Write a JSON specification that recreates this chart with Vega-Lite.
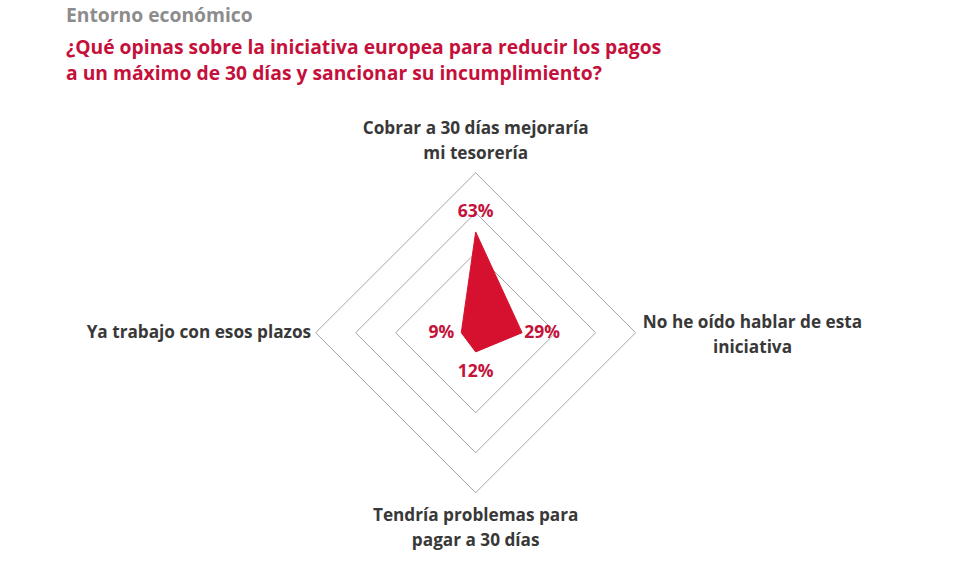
{
  "$schema": "https://vega.github.io/schema/vega-lite/v6.json",
  "width": 980,
  "height": 473,
  "autosize": {"type": "none"},
  "padding": {"top": 95, "left": 0, "right": 0, "bottom": 0},
  "background": "white",
  "config": {
    "view": {"stroke": null},
    "font": "Open Sans"
  },
  "title": {
    "text": "Entorno económico",
    "subtitle": [
      "¿Qué opinas sobre la iniciativa europea para reducir los pagos",
      "a un máximo de 30 días y sancionar su incumplimiento?"
    ],
    "anchor": "start",
    "frame": "group",
    "dx": 66,
    "offset": 11,
    "font": "Open Sans",
    "fontSize": 19.3,
    "fontWeight": "bold",
    "color": "#8c8c8c",
    "subtitleFont": "Open Sans",
    "subtitleFontSize": 19.3,
    "subtitleFontWeight": "bold",
    "subtitleColor": "#c5103c",
    "subtitleLineHeight": 26,
    "subtitlePadding": 12
  },
  "datasets": {
    "respuestas": [
      {"respuesta": "Cobrar a 30 días mejoraría\nmi tesorería", "pct": 63, "angle": 90, "orden": 1},
      {"respuesta": "No he oído hablar de esta\niniciativa", "pct": 29, "angle": 0, "orden": 2},
      {"respuesta": "Tendría problemas para\npagar a 30 días", "pct": 12, "angle": 270, "orden": 3},
      {"respuesta": "Ya trabajo con esos plazos", "pct": 9, "angle": 180, "orden": 4}
    ],
    "anillos": [
      {"nivel": 50, "angle": 90, "orden": 1},
      {"nivel": 50, "angle": 0, "orden": 2},
      {"nivel": 50, "angle": 270, "orden": 3},
      {"nivel": 50, "angle": 180, "orden": 4},
      {"nivel": 75, "angle": 90, "orden": 1},
      {"nivel": 75, "angle": 0, "orden": 2},
      {"nivel": 75, "angle": 270, "orden": 3},
      {"nivel": 75, "angle": 180, "orden": 4},
      {"nivel": 100, "angle": 90, "orden": 1},
      {"nivel": 100, "angle": 0, "orden": 2},
      {"nivel": 100, "angle": 270, "orden": 3},
      {"nivel": 100, "angle": 180, "orden": 4}
    ]
  },
  "encoding": {
    "x": {"field": "x", "type": "quantitative", "axis": null,
          "scale": {"domain": [-297.3, 315.2], "nice": false, "zero": false}},
    "y": {"field": "y", "type": "quantitative", "axis": null,
          "scale": {"domain": [-147.1, 148.6], "nice": false, "zero": false}}
  },
  "layer": [
    {
      "data": {"name": "anillos"},
      "transform": [
        {"calculate": "datum.nivel * cos(datum.angle * PI / 180)", "as": "x"},
        {"calculate": "datum.nivel * sin(datum.angle * PI / 180)", "as": "y"}
      ],
      "mark": {"type": "line", "interpolate": "linear-closed", "stroke": "#a6a6a6", "strokeWidth": 1},
      "encoding": {
        "detail": {"field": "nivel", "type": "nominal"},
        "order": {"field": "orden", "type": "quantitative"}
      }
    },
    {
      "data": {"name": "respuestas"},
      "transform": [
        {"calculate": "datum.pct * cos(datum.angle * PI / 180)", "as": "x"},
        {"calculate": "datum.pct * sin(datum.angle * PI / 180)", "as": "y"}
      ],
      "mark": {"type": "line", "interpolate": "linear-closed", "filled": true,
               "fill": "#d6112f", "stroke": "#d6112f", "strokeWidth": 1},
      "encoding": {
        "order": {"field": "orden", "type": "quantitative"}
      }
    },
    {
      "data": {"name": "respuestas"},
      "transform": [
        {"calculate": "(datum.pct + 12.5) * cos(datum.angle * PI / 180)", "as": "x"},
        {"calculate": "(datum.pct + 12.5) * sin(datum.angle * PI / 180)", "as": "y"},
        {"calculate": "datum.pct + '%'", "as": "etiqueta"}
      ],
      "mark": {"type": "text", "align": "center", "baseline": "middle",
               "fontSize": 17.5, "fontWeight": "bold", "color": "#c4123a"},
      "encoding": {
        "text": {"field": "etiqueta"}
      }
    },
    {
      "data": {"name": "respuestas"},
      "transform": [
        {"calculate": "datum.angle == 0 || datum.angle == 180 ? 173 : 121", "as": "r"},
        {"calculate": "datum.r * cos(datum.angle * PI / 180)", "as": "x"},
        {"calculate": "datum.r * sin(datum.angle * PI / 180) + (indexof(datum.respuesta, '\\n') >= 0 ? 6.25 : 0)", "as": "y"}
      ],
      "mark": {"type": "text", "align": "center", "baseline": "middle", "lineBreak": "\n",
               "lineHeight": 25, "fontSize": 17.2, "fontWeight": "bold", "color": "#383838"},
      "encoding": {
        "text": {"field": "respuesta"}
      }
    }
  ]
}
